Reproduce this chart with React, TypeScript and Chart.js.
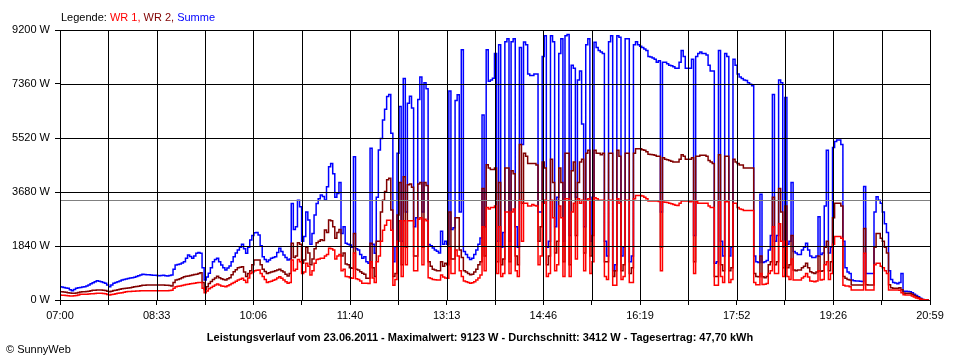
import React, { useEffect, useRef } from 'react';
import { Chart, registerables } from 'chart.js';

Chart.register(...registerables);

// ---- data ----
const START_MIN = 420; // 07:00
const END_MIN = 1259; // 20:59
const STEP_MIN = 2;
const Y_MAX = 9200;
const Y_STEP = 1840;
const AVERAGE_W = 3412;
const GRID_DIVISIONS = 18;
const TICK_LABELS = ['07:00', '08:33', '10:06', '11:40', '13:13', '14:46', '16:19', '17:52', '19:26', '20:59'];

const SUMME = [
  454, 440, 430, 410, 397, 350, 318, 360, 397, 415, 430, 445, 454, 480, 511, 550, 590, 625, 658, 640,
  625, 600, 568, 510, 454, 510, 568, 600, 625, 650, 681, 700, 715, 735, 750, 760, 772, 800, 829, 850,
  874, 870, 863, 858, 852, 846, 840, 835, 829, 835, 840, 830, 818, 835, 852, 1050, 1193, 1210, 1227, 1260,
  1306, 1420, 1533, 1480, 1420, 1500, 1590, 1620, 1590, 1100, 680, 780, 908, 1100, 1306, 1380, 1420, 1300, 1193, 1100,
  1022, 1090, 1160, 1300, 1476, 1600, 1703, 1800, 1900, 1750, 1590, 1800, 2044, 2200, 2294, 2300, 2215, 1850, 1476, 1380,
  1306, 1360, 1420, 1450, 1476, 1620, 1760, 1650, 1530, 1450, 1363, 1400, 3290, 2400, 2500, 3400, 3180, 2000, 2160, 3000,
  2726, 1900, 2270, 2900, 3290, 3450, 3580, 3530, 3407, 3860, 4540, 4650, 4300, 3500, 3630, 4000, 2270, 2500, 1930, 1900,
  1870, 1800, 4880, 1750, 1704, 1550, 1420, 1470, 1306, 1250, 5170, 1900, 1590, 3500, 5110, 5500, 6133, 6500, 6930, 7000,
  5680, 1300, 1817, 5000, 6590, 2000, 7550, 3000, 6700, 6940, 6540, 2500, 2800, 6830, 7600, 3000, 7400, 7200, 1890, 1850,
  1774, 1700, 1660, 1600, 2340, 1900, 2000, 1900, 7120, 2400, 2460, 6800, 6990, 3000, 8530, 1650, 1550, 1450, 1380, 1420,
  1550, 1700, 1900, 2115, 6300, 2500, 8530, 7450, 7500, 7560, 8400, 2000, 8700, 1800, 2300, 8800, 8900, 2000, 8800, 8900,
  2500, 1800, 8600, 5300, 8790, 8700, 7700, 7650, 7650, 7700, 7700, 3000, 3000, 8300, 9000, 1800, 2000, 9000, 8800, 2500,
  3500, 8400, 8900, 2000, 9000, 9050, 2200, 8000, 7900, 3500, 7500, 7800, 6000, 2500, 8700, 8900, 2000, 3500, 8780, 8600,
  8500, 8450, 8400, 2000, 1500, 8800, 9000, 1000, 1200, 9000, 8950, 1500, 1800, 8900, 8900, 1300, 1500, 8700, 8800, 8700,
  8650, 8600, 8550, 8500, 8300, 8280, 8250, 8200, 8100, 8150, 3000, 8100, 8100, 8050, 8000, 7980, 7950, 7900, 7900, 8100,
  8500, 8300, 7900, 7900, 7900, 8200, 2200, 8300, 8400, 8450, 8400, 8400, 8350, 8000, 7800, 7800, 1250, 1300, 8500, 2000,
  1500, 8400, 8300, 1500, 1800, 8200, 8000, 7700, 7600, 7550, 7500, 7480, 7400, 7350, 7300, 1500, 1300, 1280, 3600, 1280,
  1300, 1350, 1700, 2200, 7000, 2000, 2200, 7500, 7400, 1800, 6900, 1900, 2000, 4000, 1650, 1600, 1550, 1550, 1700, 1800,
  1930, 1700, 1500, 1450, 1450, 1500, 2840, 1550, 1600, 3200, 5100, 1600, 1800, 5200, 5400, 5450, 5450, 5300, 2000, 1100,
  950, 900, 680, 660, 650, 650, 640, 630, 3870, 900, 900, 900, 900, 3000, 3520, 3400, 3300, 3000, 2600, 2300,
  1000, 700, 600, 580, 550, 600, 900, 300, 300, 290, 280, 250, 200, 150, 110, 60, 20, 10, 0, 0,
];

const WR2 = [
  284, 277, 270, 260, 250, 238, 227, 234, 240, 255, 270, 277, 284, 292, 300, 315, 330, 336, 341, 341,
  341, 330, 320, 300, 284, 302, 320, 335, 350, 365, 380, 388, 397, 408, 420, 437, 454, 462, 470, 485,
  500, 505, 511, 511, 511, 511, 511, 511, 511, 511, 511, 505, 500, 490, 480, 600, 681, 700, 720, 760,
  795, 808, 820, 836, 852, 866, 880, 905, 931, 600, 360, 450, 560, 630, 700, 750, 806, 760, 720, 700,
  681, 720, 760, 860, 965, 1030, 1100, 1120, 1135, 950, 800, 900, 1000, 1200, 1363, 1363, 1363, 1200, 1050, 970,
  900, 925, 950, 975, 1000, 1020, 1045, 1000, 950, 880, 820, 900, 1930, 1450, 1500, 1950, 1900, 1250, 1363, 1800,
  1600, 1200, 1400, 1750, 1950, 2000, 2050, 2030, 2385, 2300, 2726, 2700, 2500, 2100, 2300, 2400, 1500, 1600, 1230, 1200,
  1100, 1080, 2270, 1050, 1020, 960, 910, 880, 740, 740, 1930, 1100, 800, 2000, 2000, 3000, 3400, 3700, 4100, 4150,
  3070, 800, 900, 2900, 4000, 1200, 4200, 1800, 3930, 3950, 3840, 1500, 1500, 3950, 4000, 1800, 4000, 3900, 1300, 1150,
  1050, 1020, 1000, 1000, 1300, 1150, 1250, 1200, 3000, 1400, 1400, 2800, 2800, 1700, 1450, 1000, 950, 900, 860, 880,
  950, 1050, 1200, 1300, 3800, 1500, 4610, 4500, 4450, 4450, 4500, 1300, 4000, 1200, 1400, 4500, 4500, 1300, 4400, 4300,
  1500, 1200, 5300, 3300, 5000, 4900, 4650, 4650, 4650, 4650, 4600, 2000, 2500, 4700, 4500, 1200, 1500, 4800, 4000, 1600,
  2000, 4500, 4000, 1300, 5000, 5000, 1200, 4400, 4700, 2200, 4000, 4700, 4800, 1600, 5000, 5100, 1500, 2200, 5100, 5000,
  5000, 4950, 5000, 1300, 1300, 5000, 5000, 800, 1000, 5100, 4900, 1000, 1200, 5000, 5000, 900, 1100, 5000, 5150, 5150,
  5150, 5120, 5100, 5050, 4970, 4960, 4950, 4930, 4900, 4900, 1800, 4850, 4800, 4780, 4750, 4730, 4700, 4700, 4700, 4800,
  4950, 4900, 4800, 4800, 4800, 4850, 1300, 4900, 4900, 4930, 4930, 4930, 4900, 4750, 4700, 4650, 800, 800, 4950, 1200,
  1000, 4900, 4900, 1000, 1100, 4800, 4700, 4650, 4600, 4600, 4500, 4500, 4500, 4500, 4500, 900, 800, 790, 1500, 790,
  760, 800, 1200, 1300, 3500, 1200, 1300, 3800, 3000, 1100, 3200, 1100, 1200, 2200, 1020, 1000, 1020, 1020, 1100, 1150,
  1250, 1100, 960, 930, 900, 950, 1500, 980, 1000, 1800, 2000, 1000, 1300, 2800, 3300, 3300, 3300, 3200, 800, 740,
  700, 680, 510, 510, 510, 510, 510, 510, 2440, 520, 510, 510, 510, 1800, 2270, 2270, 2100, 2000, 1800, 1600,
  520, 420, 400, 400, 400, 420, 350, 240, 230, 230, 230, 200, 150, 110, 80, 40, 15, 5, 0, 0,
];

const WR1 = [
  170, 165, 160, 152, 145, 140, 136, 143, 150, 170, 193, 193, 193, 200, 205, 210, 215, 221, 227, 227,
  227, 218, 210, 190, 170, 185, 200, 213, 227, 238, 250, 267, 284, 287, 290, 295, 300, 305, 310, 314,
  318, 318, 318, 318, 318, 318, 318, 318, 318, 318, 318, 318, 318, 325, 330, 400, 454, 467, 480, 495,
  511, 525, 540, 550, 560, 575, 590, 595, 600, 400, 250, 310, 380, 425, 470, 510, 545, 510, 480, 467,
  454, 487, 520, 560, 600, 640, 681, 710, 740, 670, 600, 750, 900, 950, 1000, 1010, 1020, 900, 800, 700,
  600, 620, 640, 670, 700, 750, 794, 740, 680, 620, 568, 600, 1363, 1000, 1050, 1380, 1300, 900, 950, 1250,
  1150, 850, 1000, 1250, 1380, 1400, 1420, 1420, 1500, 1550, 1760, 1750, 1700, 1400, 1500, 1550, 1000, 1050, 800, 790,
  760, 740, 1600, 720, 700, 650, 570, 570, 570, 560, 1300, 750, 600, 1300, 1500, 2000, 2380, 2550, 2720, 2720,
  2380, 500, 700, 2000, 2700, 800, 2700, 1200, 2700, 2700, 2700, 1000, 1000, 2750, 2800, 1200, 2750, 2700, 760, 730,
  700, 690, 680, 680, 850, 780, 750, 740, 1800, 900, 900, 1700, 1500, 1000, 800, 650, 620, 600, 570, 590,
  620, 680, 750, 850, 2500, 1000, 3150, 3100, 3150, 3150, 3200, 900, 2500, 800, 900, 3000, 3000, 900, 3000, 3100,
  1000, 800, 3400, 2000, 3300, 3300, 3200, 3200, 3250, 3220, 3200, 1200, 1500, 3300, 3400, 800, 900, 3400, 2800, 1000,
  1200, 3200, 2800, 800, 3450, 3450, 800, 3000, 3300, 1400, 3450, 3300, 3400, 1000, 3400, 3450, 900, 1300, 3480, 3450,
  3400, 3400, 3400, 800, 700, 3400, 3400, 500, 500, 3450, 3300, 700, 800, 3400, 3400, 600, 600, 3450, 3560, 3560,
  3560, 3540, 3500, 3450, 3370, 3370, 3370, 3370, 3370, 3360, 1000, 3340, 3330, 3320, 3300, 3280, 3250, 3230, 3220, 3300,
  3370, 3370, 3370, 3370, 3350, 3370, 900, 3350, 3300, 3300, 3300, 3300, 3300, 3200, 3150, 3150, 500, 500, 3370, 800,
  600, 3350, 3350, 600, 700, 3300, 3300, 3150, 3100, 3080, 3050, 3050, 3050, 3050, 3050, 600, 520, 520, 900, 530,
  540, 560, 900, 1000, 2500, 900, 900, 2600, 2000, 800, 2000, 800, 700, 1400, 680, 680, 680, 680, 750, 800,
  900, 780, 650, 640, 620, 650, 1000, 680, 700, 1200, 1300, 700, 900, 1900, 2160, 2160, 2160, 2100, 500, 480,
  480, 450, 340, 340, 340, 340, 340, 340, 1590, 340, 340, 340, 340, 1200, 1250, 1250, 1150, 1100, 1000, 900,
  340, 340, 340, 340, 340, 330, 250, 180, 170, 170, 170, 140, 100, 70, 50, 25, 10, 5, 0, 0,
];

const LEGEND_PARTS = [
  { text: 'Legende: ', color: '#000000' },
  { text: 'WR 1, ', color: '#FF0000' },
  { text: 'WR 2, ', color: '#800000' },
  { text: 'Summe', color: '#0000FF' },
];
const TITLE = 'Leistungsverlauf vom 23.06.2011 - Maximalwert: 9123 W - Durchschnitt: 3412 W - Tagesertrag: 47,70 kWh';
const COPYRIGHT = '\u00A9 SunnyWeb';

const FONT = '"Liberation Sans", Arial, sans-serif';

function toPoints(values: number[]) {
  return values.map((v, i) => ({ x: START_MIN + i * STEP_MIN, y: v }));
}

const overlayPlugin = {
  id: 'overlay',
  afterDatasetsDraw(chart: any) {
    const { ctx, chartArea, scales } = chart;
    const { left, right, top, bottom } = chartArea;
    const x = scales.x;
    const y = scales.y;
    ctx.save();
    // average line
    ctx.lineWidth = 1;
    ctx.strokeStyle = '#808080';
    const ay = Math.round(y.getPixelForValue(AVERAGE_W)) + 0.5;
    ctx.beginPath();
    ctx.moveTo(left, ay);
    ctx.lineTo(right, ay);
    ctx.stroke();
    // grid on top of the data
    ctx.strokeStyle = '#000000';
    ctx.beginPath();
    x.ticks.forEach((t: any) => {
      const px = Math.round(x.getPixelForValue(t.value)) + 0.5;
      ctx.moveTo(px, top);
      ctx.lineTo(px, bottom + 1);
    });
    y.ticks.forEach((t: any) => {
      const py = Math.round(y.getPixelForValue(t.value)) + 0.5;
      ctx.moveTo(left, py);
      ctx.lineTo(right + 1, py);
    });
    ctx.stroke();
    ctx.restore();
  },
  afterDraw(chart: any) {
    const { ctx } = chart;
    ctx.save();
    ctx.textBaseline = 'alphabetic';
    ctx.font = `11px ${FONT}`;
    let lx = 61;
    LEGEND_PARTS.forEach((p) => {
      ctx.fillStyle = p.color;
      ctx.textAlign = 'left';
      ctx.fillText(p.text, lx, 21);
      lx += ctx.measureText(p.text).width;
    });
    ctx.fillStyle = '#000000';
    ctx.font = `bold 11px ${FONT}`;
    ctx.textAlign = 'center';
    ctx.fillText(TITLE, 480, 341);
    ctx.font = `11px ${FONT}`;
    ctx.textAlign = 'left';
    ctx.fillText(COPYRIGHT, 6, 353);
    ctx.restore();
  },
};

export default function App() {
  const canvasRef = useRef<HTMLCanvasElement | null>(null);

  useEffect(() => {
    if (!canvasRef.current) return;
    const lineDs = (label: string, values: number[], color: string) => ({
      label,
      data: toPoints(values),
      borderColor: color,
      backgroundColor: color,
      borderWidth: 1.5,
      pointRadius: 0,
      stepped: 'middle' as const,
      fill: false,
    });
    const chart = new Chart(canvasRef.current, {
      type: 'line',
      data: {
        datasets: [
          lineDs('WR 1', WR1, '#FF0000'),
          lineDs('WR 2', WR2, '#800000'),
          lineDs('Summe', SUMME, '#0000FF'),
        ],
      },
      options: {
        responsive: false,
        animation: false,
        devicePixelRatio: 1,
        layout: { padding: { top: 30, right: 30, left: 0, bottom: 0 } },
        plugins: {
          legend: { display: false },
          tooltip: { enabled: false },
          title: { display: false },
        },
        scales: {
          x: {
            type: 'linear',
            min: START_MIN,
            max: END_MIN,
            afterBuildTicks: (scale: any) => {
              const ticks = [];
              for (let k = 0; k <= GRID_DIVISIONS; k++) {
                ticks.push({ value: START_MIN + (k * (END_MIN - START_MIN)) / GRID_DIVISIONS });
              }
              scale.ticks = ticks;
            },
            afterFit: (scale: any) => {
              scale.height = 60;
            },
            grid: { display: true, drawOnChartArea: false, drawTicks: true, tickLength: 5, color: '#000000', lineWidth: 1 },
            border: { display: false },
            ticks: {
              autoSkip: false,
              maxRotation: 0,
              minRotation: 0,
              padding: 4,
              color: '#000000',
              font: { family: FONT, size: 11 },
              callback: (_v: any, index: number) => (index % 2 === 0 ? TICK_LABELS[index / 2] : ''),
            },
          },
          y: {
            type: 'linear',
            min: 0,
            max: Y_MAX,
            afterFit: (scale: any) => {
              scale.width = 60;
            },
            grid: { display: true, drawOnChartArea: false, drawTicks: true, tickLength: 5, color: '#000000', lineWidth: 1 },
            border: { display: false },
            ticks: {
              stepSize: Y_STEP,
              padding: 5,
              color: '#000000',
              font: { family: FONT, size: 11 },
              callback: (v: any) => `${v} W`,
            },
          },
        },
      },
      plugins: [overlayPlugin],
    });
    return () => chart.destroy();
  }, []);

  return (
    <div style={{ position: 'absolute', left: 0, top: 0, width: 960, height: 360, background: '#ffffff' }}>
      <canvas ref={canvasRef} width={960} height={360} style={{ display: 'block' }} />
    </div>
  );
}
